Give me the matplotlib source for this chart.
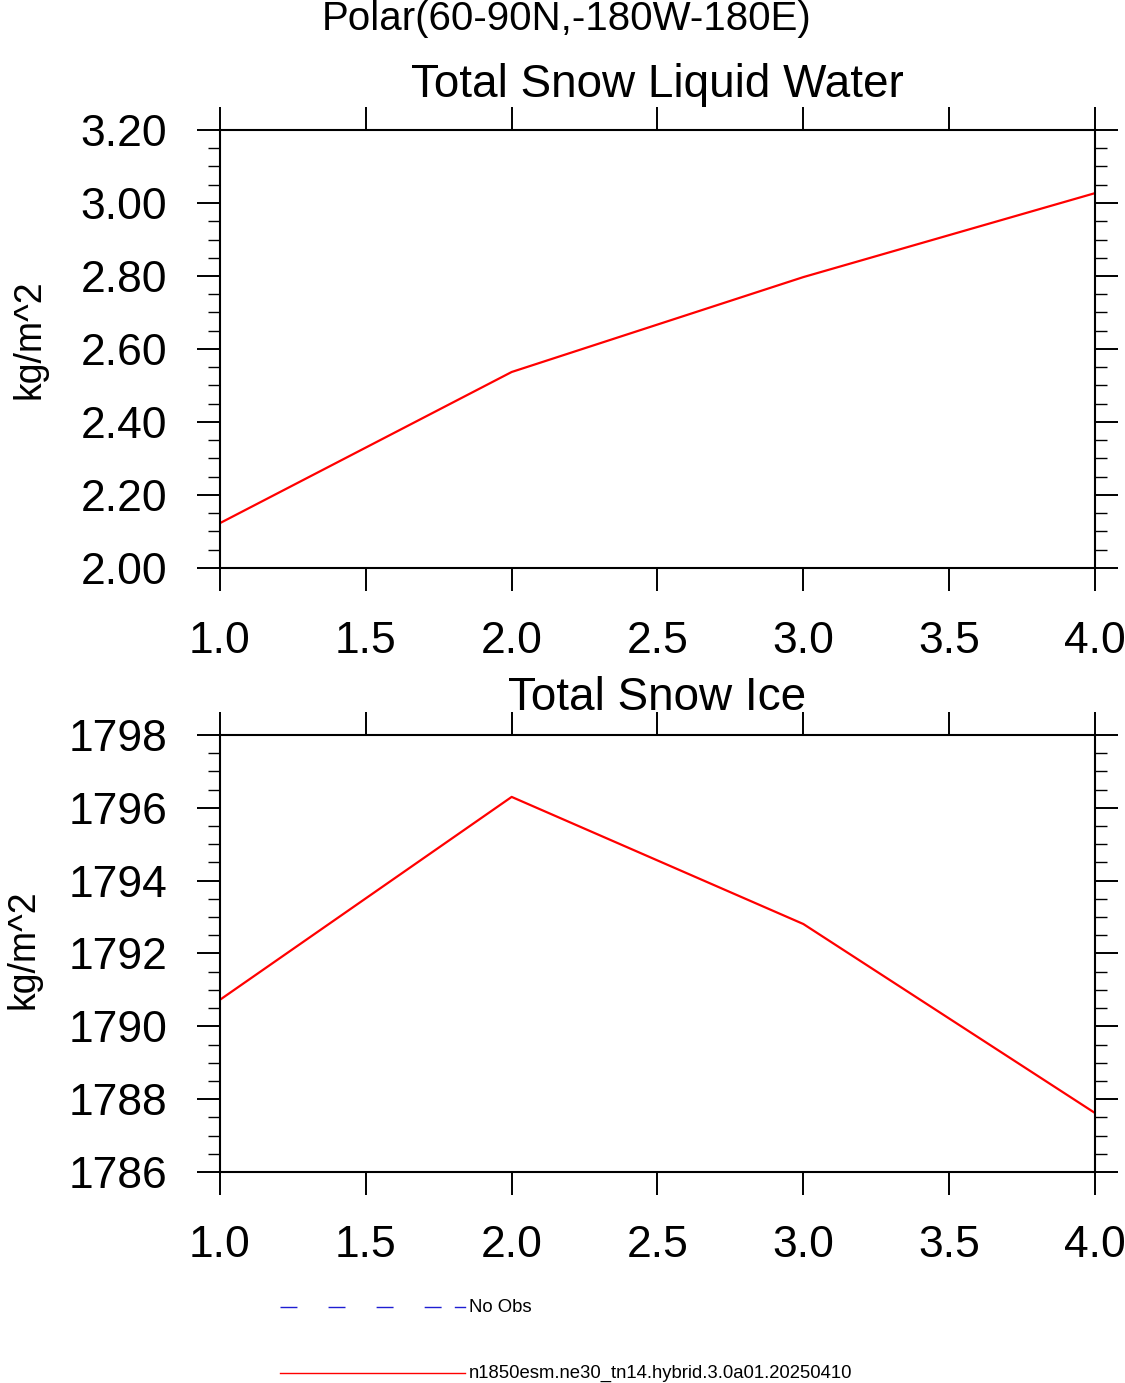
import matplotlib
matplotlib.use("Agg")
import matplotlib.pyplot as plt
from matplotlib.ticker import MultipleLocator, FormatStrFormatter
from matplotlib.lines import Line2D

plt.rcParams["font.family"] = ["Liberation Sans", "DejaVu Sans"]

years = [1, 2, 3, 4]
snow_liquid = [2.123, 2.537, 2.797, 3.027]
snow_ice = [1790.73, 1796.30, 1792.81, 1787.62]

case_name = "n1850esm.ne30_tn14.hybrid.3.0a01.20250410"
region = "Polar(60-90N,-180W-180E)"

W, H = 1125, 1383
fig = plt.figure(figsize=(W / 100, H / 100), dpi=100)


def _axes(left, top, right, bottom):
    return fig.add_axes([left / W, 1 - bottom / H, (right - left) / W, (bottom - top) / H])


def _style(ax, ylim, ymajor, fmt):
    ax.set_xlim(1.0, 4.0)
    ax.set_ylim(*ylim)
    ax.xaxis.set_major_locator(MultipleLocator(0.5))
    ax.xaxis.set_major_formatter(FormatStrFormatter("%.1f"))
    ax.yaxis.set_major_locator(MultipleLocator(ymajor))
    ax.yaxis.set_minor_locator(MultipleLocator(ymajor / 4))
    ax.yaxis.set_major_formatter(FormatStrFormatter(fmt))
    ax.tick_params(axis="both", which="major", direction="out", length=16.5, width=1.4,
                   labelsize=32, top=True, right=True)
    ax.tick_params(axis="y", which="minor", direction="out", length=8.5, width=1.0,
                   left=True, right=True)
    ax.tick_params(axis="x", which="major", pad=22)
    ax.tick_params(axis="y", which="major", pad=21.5)
    for sp in ax.spines.values():
        sp.set_linewidth(1.5)


def _px(x, y):
    return x / W, 1 - y / H


ax1 = _axes(220, 130, 1095, 568)
ax1.plot(years, snow_liquid, color="red", linewidth=1.6)
_style(ax1, (2.0, 3.2), 0.2, "%.2f")

ax2 = _axes(220, 735, 1095, 1172)
ax2.plot(years, snow_ice, color="red", linewidth=1.6)
_style(ax2, (1786, 1798), 2, "%.0f")

# titles and axis labels placed like the NCL page
fig.text(*_px(567, 30), region, ha="center", va="baseline", fontsize=29)
fig.text(*_px(657.5, 97), "Total Snow Liquid Water", ha="center", va="baseline", fontsize=33)
fig.text(*_px(657.5, 710), "Total Snow Ice", ha="center", va="baseline", fontsize=33)
fig.text(*_px(30, 339), "kg/m^2", ha="center", va="center", rotation=90, fontsize=27)
fig.text(*_px(23, 949), "kg/m^2", ha="center", va="center", rotation=90, fontsize=27)

# legend drawn by hand
obs_blue = "#1e1ed2"
fig.add_artist(Line2D([280 / W, 445 / W], [1 - 1307 / H] * 2, color=obs_blue,
                      linewidth=1.0, linestyle=(0, (12.2, 22.4))))
fig.add_artist(Line2D([455 / W, 465 / W], [1 - 1307 / H] * 2, color=obs_blue, linewidth=1.0))
fig.text(*_px(469, 1307), "No Obs", ha="left", va="center", fontsize=13.3)
fig.add_artist(Line2D([280 / W, 465 / W], [1 - 1373 / H] * 2, color="red", linewidth=1.0))
fig.text(*_px(469, 1373), case_name, ha="left", va="center", fontsize=13.3)

fig.savefig("out.png", dpi=100)
